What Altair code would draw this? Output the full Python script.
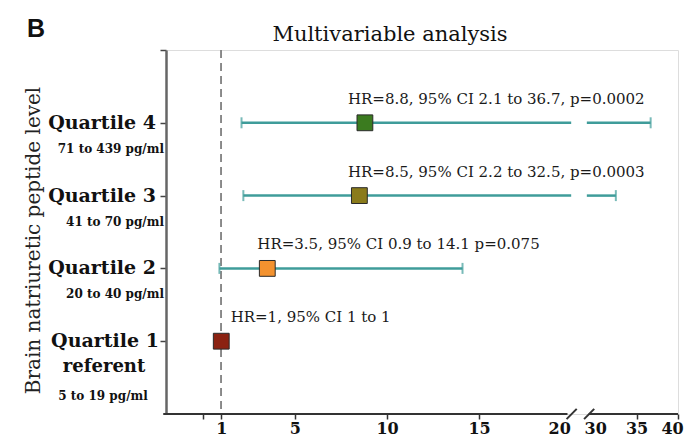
import altair as alt
import pandas as pd

# ---------------- data ----------------
quartiles = ["Quartile 4", "Quartile 3", "Quartile 2", "Quartile 1"]
ranges = ["71 to 439 pg/ml", "41 to 70 pg/ml", "20 to 40 pg/ml", "5 to 19 pg/ml"]
ranks = [4, 3, 2, 1]
hr = [8.8, 8.5, 3.5, 1.0]
ci_lo = [2.1, 2.2, 0.9, 1.0]
ci_hi = [36.7, 32.5, 14.1, 1.0]
annotations = [
    "HR=8.8, 95% CI 2.1 to 36.7, p=0.0002",
    "HR=8.5, 95% CI 2.2 to 32.5, p=0.0003",
    "HR=3.5, 95% CI 0.9 to 14.1 p=0.075",
    "HR=1, 95% CI 1 to 1",
]
annot_x = [7.88, 7.88, 2.96, 1.51]
colors = ["#3b7b1f", "#8a7b1b", "#f3922f", "#8b2212"]
x_tick_values = [0, 1, 5, 10, 15, 20, 30, 35, 40]

# ---------------- broken axis mapping ----------------
X_MIN = -2
BREAK_LO, BREAK_HI = 20, 30
RESUME = 29          # CI lines resume just before the right segment
P30 = 21.3           # axis position of 30
K_RIGHT = 0.45       # compression of the right segment


def pos(v):
    if v <= BREAK_LO:
        return v
    return P30 + (v - BREAK_HI) * K_RIGHT


X_MAX = pos(40)

# ---------------- tables ----------------
pts = pd.DataFrame({
    "rank": ranks, "label": quartiles, "range": ranges,
    "hr": [pos(v) for v in hr], "color": colors,
    "annot": annotations, "ax": annot_x,
})

segs, caps = [], []
for r, lo, hi in zip(ranks, ci_lo, ci_hi):
    if hi <= lo:
        continue
    segs.append({"rank": r, "x": pos(lo), "x2": pos(min(hi, BREAK_LO))})
    if hi > BREAK_LO:
        segs.append({"rank": r, "x": pos(RESUME), "x2": pos(hi)})
    caps.append({"rank": r, "x": pos(lo)})
    caps.append({"rank": r, "x": pos(hi)})
segs = pd.DataFrame(segs)
caps = pd.DataFrame(caps)

axis_line = pd.DataFrame({
    "x": [X_MIN - 0.15, pos(RESUME) + 0.1],
    "x2": [BREAK_LO - 0.2, X_MAX],
    "y": [0, 0],
})
slashes = pd.DataFrame({
    "x": [BREAK_LO - 0.25, pos(RESUME) - 0.15],
    "x2": [BREAK_LO + 0.3, pos(RESUME) + 0.4],
    "y": [-0.07, -0.07],
    "y2": [0.07, 0.07],
})

SERIF = "DejaVu Serif"
TEAL = "#3f9c9a"

label_expr = (
    f"datum.value == 0 ? '' : (datum.value <= {BREAK_LO} ? format(datum.value, 'd') : "
    f"format(round({BREAK_HI} + (datum.value - {P30}) / {K_RIGHT}), 'd'))"
)

X_SCALE = alt.Scale(domain=[X_MIN, X_MAX], nice=False, zero=False)
Y_SCALE = alt.Scale(domain=[0, 5], nice=False, zero=False)

X_AXIS = alt.Axis(
    values=[pos(v) for v in x_tick_values], labelExpr=label_expr,
    domain=False, grid=False, title=None, ticks=True, tickSize=5,
    tickWidth=1.5, tickColor="#333",
    tickOpacity={"condition": {"test": f"datum.value == {BREAK_LO} || datum.value == {P30}", "value": 0}, "value": 1},
    labelOffset={"condition": [
        {"test": f"datum.value == {BREAK_LO}", "value": -12},
        {"test": f"datum.value > {X_MAX - 0.5}", "value": -6},
    ], "value": 0},
    labelFont=SERIF, labelFontWeight="bold",
    labelFontSize=16, labelColor="#111", labelPadding=1, labelOverlap=False,
    labelFlush=False,
)
Y_AXIS = alt.Axis(
    values=[1, 2, 3, 4, 5], labels=False, ticks=True, tickSize=6, tickWidth=1.5,
    tickColor="#444", domainColor="#666", domainWidth=2.5, grid=False,
    title="Brain natriuretic peptide level", titleFont=SERIF, titleFontSize=20,
    titleFontWeight="normal", titleColor="#222", titleX=-133, titleY=190,
    titleAngle=270, titleAlign="center", titleBaseline="middle",
)


def X(field):
    return alt.X(field, type="quantitative", scale=X_SCALE, axis=X_AXIS)


def Y(field):
    return alt.Y(field, type="quantitative", scale=Y_SCALE, axis=Y_AXIS)


XD = alt.datum(X_MIN, scale=X_SCALE, axis=X_AXIS)

ref = alt.Chart(pts).mark_rule(
    color="#888", strokeDash=[8, 5], strokeWidth=1.5
).encode(x=alt.datum(1, scale=X_SCALE, axis=X_AXIS))

xline = alt.Chart(axis_line).mark_rule(color="#333", strokeWidth=2).encode(
    x=X("x"), x2="x2", y=Y("y")
)
xslash = alt.Chart(slashes).mark_rule(color="#333", strokeWidth=2).encode(
    x=X("x"), x2="x2", y=Y("y"), y2="y2"
)

ci = alt.Chart(segs).mark_rule(color=TEAL, strokeWidth=2.5).encode(
    x=X("x"), x2="x2", y=Y("rank")
)
cap = alt.Chart(caps).mark_tick(
    color=TEAL, orient="vertical", size=11, thickness=2
).encode(x=X("x"), y=Y("rank"))

squares = alt.Chart(pts).mark_square(
    size=250, opacity=1, filled=True, stroke="#2a2a2a", strokeWidth=1
).encode(x=X("hr"), y=Y("rank"), color=alt.Color("color:N", scale=None))

annot = alt.Chart(pts).mark_text(
    align="left", baseline="alphabetic", dy=-19, font=SERIF, fontSize=15,
    color="#1a1a1a"
).encode(x=X("ax"), y=Y("rank"), text="annot:N")

main_lab = alt.Chart(pts).transform_filter("datum.rank > 1").mark_text(
    align="right", baseline="middle", dx=-10, font=SERIF, fontWeight="bold",
    fontSize=19, color="#111"
).encode(x=XD, y=Y("rank"), text="label:N")

sub_lab = alt.Chart(pts).transform_filter("datum.rank > 1").mark_text(
    align="right", baseline="middle", dx=-2, dy=26, font=SERIF, fontWeight="bold",
    fontSize=12, color="#111"
).encode(x=XD, y=Y("rank"), text="range:N")

q1_lab = alt.Chart(pts).transform_filter("datum.rank == 1").mark_text(
    align="center", baseline="middle", dx=-61, font=SERIF, fontWeight="bold",
    fontSize=19, color="#111"
).encode(x=XD, y=Y("rank"), text="label:N")

q1_ref = alt.Chart(pts).transform_filter("datum.rank == 1").mark_text(
    align="center", baseline="middle", dx=-62, dy=26, font=SERIF, fontWeight="bold",
    fontSize=18, color="#111", text="referent"
).encode(x=XD, y=Y("rank"))

q1_sub = alt.Chart(pts).transform_filter("datum.rank == 1").mark_text(
    align="center", baseline="middle", dx=-63, dy=55, font=SERIF, fontWeight="bold",
    fontSize=12, color="#111"
).encode(x=XD, y=Y("rank"), text="range:N")

panel = alt.Chart(pts).transform_filter("datum.rank == 1").mark_text(
    align="left", baseline="alphabetic", font="Liberation Sans", fontWeight="bold",
    fontSize=25, color="#111", text="B"
).encode(x=alt.value(-139), y=alt.value(-13))

title = alt.Chart(pts).transform_filter("datum.rank == 1").mark_text(
    align="center", baseline="alphabetic", font=SERIF, fontSize=21,
    color="#111", text="Multivariable analysis"
).encode(x=alt.value(224), y=alt.value(-9))

chart = alt.layer(
    ref, xline, xslash, ci, cap, squares, annot,
    main_lab, sub_lab, q1_lab, q1_ref, q1_sub, panel, title
).properties(
    width=512, height=364,
    autosize=alt.AutoSizeParams(type="none"),
    padding={"left": 158, "top": 42, "right": 6, "bottom": 24},
).configure_view(stroke=None).configure(background="white")

chart.save("out.html", embed_options={"renderer": "svg", "actions": False})
